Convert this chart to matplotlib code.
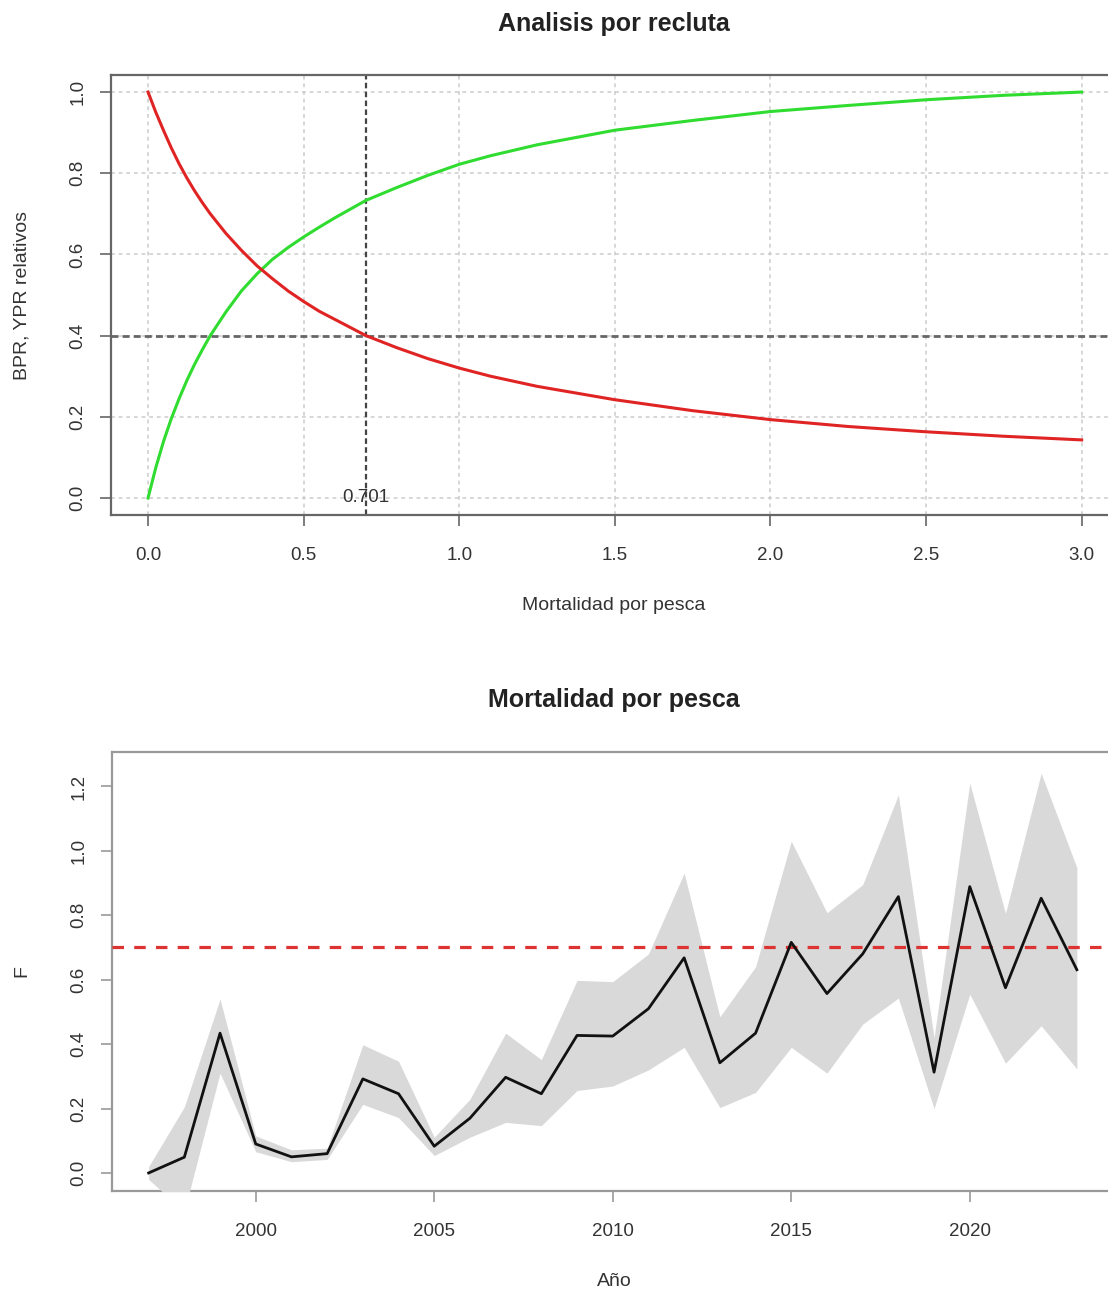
"""Analisis por recluta + Mortalidad por pesca (two stacked panels)"""
import matplotlib
matplotlib.use('Agg')
import matplotlib.pyplot as plt

plt.rcParams['font.family'] = ['Liberation Sans', 'DejaVu Sans']

# ── datos: panel superior (por recluta, relativos) ───────────────
f_grid = [0.0, 0.025, 0.05, 0.075, 0.1, 0.125, 0.15, 0.175, 0.2, 0.25, 0.3, 0.35,
          0.4, 0.45, 0.5, 0.55, 0.6, 0.7, 0.8, 0.9, 1.0, 1.1, 1.25, 1.5, 1.75,
          2.0, 2.25, 2.5, 2.75, 3.0]
bpr_rel = [1.0, 0.95, 0.905, 0.862, 0.823, 0.788, 0.756, 0.727, 0.70, 0.652, 0.61, 0.572,
           0.54, 0.51, 0.484, 0.46, 0.44, 0.40, 0.37, 0.343, 0.32, 0.30, 0.275, 0.242, 0.215,
           0.193, 0.176, 0.163, 0.152, 0.143]
ypr_rel = [0.0, 0.075, 0.14, 0.196, 0.245, 0.29, 0.33, 0.366, 0.40, 0.458, 0.51, 0.552,
           0.588, 0.617, 0.643, 0.667, 0.69, 0.733, 0.765, 0.795, 0.822, 0.843, 0.87, 0.906, 0.93,
           0.952, 0.967, 0.981, 0.992, 1.0]
f40 = 0.701
bpr_ref = 0.4

# ── datos: panel inferior (F anual con intervalo) ────────────────
years = list(range(1997, 2024))
f_est = [0.0, 0.049, 0.434, 0.09, 0.05, 0.06, 0.292, 0.246, 0.083, 0.170,
         0.297, 0.246, 0.427, 0.425, 0.51, 0.668, 0.342, 0.434, 0.716, 0.557,
         0.68, 0.858, 0.313, 0.889, 0.575, 0.853, 0.631]
f_low = [-0.02, -0.12, 0.31, 0.066, 0.035, 0.042, 0.213, 0.172, 0.054, 0.111,
         0.157, 0.147, 0.256, 0.27, 0.32, 0.39, 0.203, 0.25, 0.39, 0.31,
         0.462, 0.543, 0.2, 0.555, 0.341, 0.457, 0.323]
f_up = [0.02, 0.205, 0.54, 0.115, 0.072, 0.077, 0.398, 0.347, 0.111, 0.229,
        0.434, 0.352, 0.598, 0.594, 0.68, 0.931, 0.485, 0.64, 1.03, 0.808,
        0.895, 1.174, 0.42, 1.21, 0.806, 1.241, 0.948]
f_ref = 0.701

W, H = 1108, 1295
TXT = '#333333'


def fx(px):
    return px / W


def fy(py):
    return 1 - py / H


fig = plt.figure(figsize=(W / 100, H / 100), dpi=100)
fig.patch.set_facecolor('white')


def style_axes(ax, spine_col):
    for s in ax.spines.values():
        s.set_edgecolor(spine_col)
        s.set_linewidth(1.6)
    ax.tick_params(direction='out', length=8, width=1.2, color=spine_col,
                   labelsize=13.5, labelcolor=TXT)
    ax.tick_params(axis='x', pad=15)
    ax.tick_params(axis='y', pad=9.5, labelrotation=90)
    for lab in ax.get_yticklabels():
        lab.set_va('center')


# ── panel superior ───────────────────────────────────────────────
ax1 = fig.add_axes([fx(110.7), fy(515), (1119 - 110.7) / W, (515 - 75) / H])
ax1.set_xlim(-0.12, 3.12)
ax1.set_ylim(-0.042, 1.042)
xt = [0.0, 0.5, 1.0, 1.5, 2.0, 2.5, 3.0]
yt = [0.0, 0.2, 0.4, 0.6, 0.8, 1.0]
ax1.set_xticks(xt, [f'{v:.1f}' for v in xt])
ax1.set_yticks(yt, [f'{v:.1f}' for v in yt])
for v in xt:
    ax1.axvline(v, color='#cccccc', lw=1.1, ls=(0, (2.5, 2.5)), zorder=0.5)
for v in yt:
    ax1.axhline(v, color='#cccccc', lw=1.1, ls=(0, (2.5, 2.5)), zorder=0.5)

ax1.axhline(bpr_ref, color='#666666', lw=2.0, ls=(0, (2.5, 1.5)), zorder=1)
ax1.axvline(f40, color='#444444', lw=1.6, ls=(0, (2.5, 1.5)), zorder=1)

ax1.plot(f_grid, ypr_rel, color='#2fdc2f', lw=2.2, zorder=3)
ax1.plot(f_grid, bpr_rel, color='#e02424', lw=2.2, zorder=3)
ax1.text(f40, 0.0, f'{f40:.3f}', ha='center', va='center', fontsize=13.5,
         color=TXT, zorder=4)
style_axes(ax1, '#666666')

fig.text(fx(614), fy(24), 'Analisis por recluta', ha='center', va='center',
         fontsize=18, fontweight='bold', color='#222222')
fig.text(fx(614), fy(606), 'Mortalidad por pesca', ha='center', va='center',
         fontsize=14, color=TXT)
fig.text(fx(22), fy(295), 'BPR, YPR relativos', ha='center', va='center',
         rotation=90, fontsize=14, color=TXT)

# ── panel inferior ───────────────────────────────────────────────
ax2 = fig.add_axes([fx(111.5), fy(1191), (1114 - 111.5) / W, (1191 - 752) / H])
ax2.set_xlim(1995.96, 2024.04)
ax2.set_ylim(-0.056, 1.307)
ax2.set_xticks([2000, 2005, 2010, 2015, 2020])
yt2 = [0.0, 0.2, 0.4, 0.6, 0.8, 1.0, 1.2]
ax2.set_yticks(yt2, [f'{v:.1f}' for v in yt2])

ax2.fill_between(years, f_low, f_up, color='#d9d9d9', lw=0, zorder=3)
ax2.axhline(f_ref, color='#dd3333', lw=2.3, ls=(0, (3.6, 3.2)), zorder=4)
ax2.plot(years, f_est, color='#111111', lw=2.0, zorder=5)
style_axes(ax2, '#999999')

fig.text(fx(614), fy(700), 'Mortalidad por pesca', ha='center', va='center',
         fontsize=18, fontweight='bold', color='#222222')
fig.text(fx(614), fy(1282), 'Año', ha='center', va='center',
         fontsize=14, color=TXT)
fig.text(fx(22), fy(971), 'F', ha='center', va='center',
         rotation=90, fontsize=14, color=TXT)

fig.savefig('out.png', dpi=100, facecolor='white')
